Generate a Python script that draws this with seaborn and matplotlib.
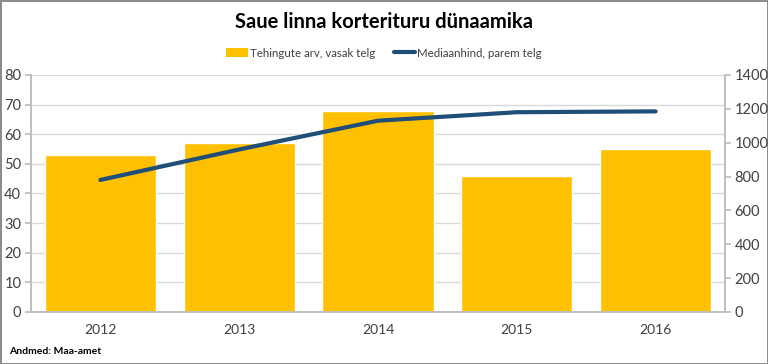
import numpy as np
import pandas as pd
import seaborn as sns
import matplotlib.pyplot as plt
from matplotlib.patches import Patch
from matplotlib.lines import Line2D

years = ['2012', '2013', '2014', '2015', '2016']
deals = [53, 57, 68, 46, 55]
median_price = [780, 960, 1130, 1180, 1185]

sns.set_theme(style='white')
plt.rcParams['font.family'] = ['Lato', 'DejaVu Sans']

bar_col = '#FFC000'
line_col = '#1F4E79'
grid_col = '#D9D9D9'
txt_col = '#404040'

fig = plt.figure(figsize=(7.68, 3.64), dpi=100, edgecolor='#8C8C8C', linewidth=2)
ax = fig.add_axes([0.0404, 0.143, 0.9036, 0.651])

df = pd.DataFrame({'aasta': years, 'tehingud': deals})
sns.barplot(data=df, x='aasta', y='tehingud', color=bar_col, saturation=1, width=0.8, ax=ax, zorder=2)
ax.set_ylim(0, 80)
ax.set_xlim(-0.5, 4.5)
ax.set_yticks(range(0, 81, 10))
ax.yaxis.grid(True, color=grid_col, linewidth=1, zorder=0)
ax.set_axisbelow(True)
ax.set_xlabel('')
ax.set_ylabel('')
ax.spines['top'].set_visible(False)
for s in ['left', 'bottom', 'right']:
    ax.spines[s].set_color('#BFBFBF')
ax.tick_params(axis='y', left=True, length=4, color='#BFBFBF', labelsize=10.5, labelcolor=txt_col, pad=3)
ax.tick_params(axis='x', bottom=False, labelsize=10, labelcolor=txt_col, pad=3)

ax2 = ax.twinx()
sns.lineplot(x=np.arange(len(years)), y=median_price, color=line_col, linewidth=3, ax=ax2, zorder=3)
ax2.set_ylim(0, 1400)
ax2.set_yticks(range(0, 1401, 200))
ax2.set_xlim(-0.5, 4.5)
ax2.spines['top'].set_visible(False)
for s in ['left', 'bottom', 'right']:
    ax2.spines[s].set_color('#BFBFBF')
ax2.tick_params(axis='y', right=True, length=4, color='#BFBFBF', labelsize=10.5, labelcolor=txt_col, pad=3)

fig.text(0.5, 0.94, 'Saue linna korterituru dünaamika', ha='center', va='center',
         fontsize=14.5, fontweight='bold', color='black')
handles = [Patch(facecolor=bar_col, edgecolor='none'),
           Line2D([0], [0], color=line_col, linewidth=3)]
fig.legend(handles, ['Tehingute arv, vasak telg', 'Mediaanhind, parem telg'],
           loc='center', bbox_to_anchor=(0.5, 0.854), ncol=2, frameon=False,
           fontsize=8.3, handlelength=1.9, handleheight=0.9, handletextpad=0.15, columnspacing=1.6,
           labelcolor=txt_col)
fig.text(0.012, 0.035, 'Andmed: Maa-amet', ha='left', va='center', fontsize=7.5,
         fontweight='bold', color='black')

fig.savefig('out.png', dpi=100, edgecolor=fig.get_edgecolor())
